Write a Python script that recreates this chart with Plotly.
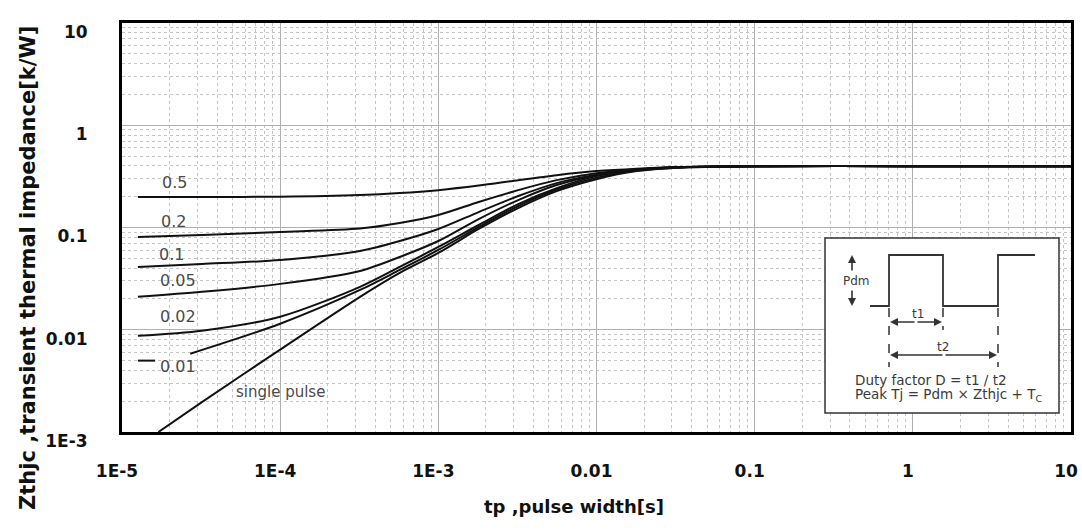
import plotly.graph_objects as go

# ---------------- data ----------------
tp = [1.26e-5, 3.2e-5, 1e-4, 3.2e-4, 5.7e-4, 1e-3, 1.8e-3, 3.2e-3, 5.6e-3, 1e-2,
      1.8e-2, 3.2e-2, 1e-1, 1, 10]

z_05 = [0.199, 0.199, 0.200, 0.2075, 0.217, 0.232, 0.257, 0.2905, 0.325, 0.356,
        0.3763, 0.389, 0.398, 0.398, 0.398]
z_02 = [0.0808, 0.0845, 0.0904, 0.0977, 0.1106, 0.1324, 0.1774, 0.232, 0.2905, 0.340,
        0.372, 0.389, 0.398, 0.398, 0.398]
z_01 = [0.0412, 0.044, 0.048, 0.059, 0.0738, 0.0967, 0.1416, 0.203, 0.2717, 0.329,
        0.368, 0.389, 0.398, 0.398, 0.398]
z_005 = [0.021, 0.0235, 0.0281, 0.0376, 0.0515, 0.0738, 0.121, 0.1854, 0.260, 0.325,
         0.368, 0.389, 0.398, 0.398, 0.398]
z_002 = [0.00873, 0.0098, 0.0134, 0.0263, 0.0412, 0.0645, 0.1058, 0.1696, 0.2428, 0.318,
         0.364, 0.389, 0.398, 0.398, 0.398]

tp_001 = [1.26e-5, 1.62e-5, None, 2.7e-5, 1e-4, 3.2e-4, 5.7e-4, 1e-3, 1.8e-3, 3.2e-3,
          5.6e-3, 1e-2, 1.8e-2, 3.2e-2, 1e-1, 1, 10]
z_001 = [0.00499, 0.00499, None, 0.00583, 0.01145, 0.0245, 0.0385, 0.0603, 0.101, 0.162,
         0.235, 0.3075, 0.360, 0.385, 0.398, 0.398, 0.398]

tp_sp = [1.7e-5, 3.2e-5, 1e-4, 3.2e-4, 5.7e-4, 1e-3, 1.8e-3, 3.2e-3, 5.6e-3, 1e-2,
         1.8e-2, 3.2e-2, 1e-1, 1, 10]
z_sp = [0.001, 0.00196, 0.0064, 0.021, 0.036, 0.0564, 0.0967, 0.155, 0.227, 0.297,
        0.356, 0.385, 0.398, 0.398, 0.398]

x_tickvals = [1e-5, 1e-4, 1e-3, 1e-2, 1e-1, 1, 10]
x_ticktext = ["1E-5", "1E-4", "1E-3", "0.01", "0.1", "1", "10"]
y_tickvals = [1e-3, 1e-2, 1e-1, 1, 10]
y_ticktext = ["1E-3", "0.01", "0.1", "1", "10"]

curve_labels = ["0.5", "0.2", "0.1", "0.05", "0.02", "0.01", "single pulse"]
# label anchor positions in data space (log10 t, log10 Z)
label_lx = [-4.665, -4.677, -4.684, -4.646, -4.646, -4.646, -4.0]
label_ly = [-0.556, -0.937, -1.268, -1.522, -1.873, -2.361, -2.605]

# ---------------- figure ----------------
W, H = 1082, 530
L, R, T, B = 122, 11, 23, 98
PW, PH = W - L - R, H - T - B


def P(px, py):
    return (px - L) / PW, (H - B - py) / PH


fig = go.Figure()
line = dict(color="#111111", width=2, shape="spline", smoothing=0.8)
for xs, ys in [(tp, z_05), (tp, z_02), (tp, z_01), (tp, z_005), (tp, z_002),
               (tp_001, z_001), (tp_sp, z_sp)]:
    fig.add_trace(go.Scatter(x=xs, y=ys, mode="lines", line=line,
                             connectgaps=False, showlegend=False, hoverinfo="skip"))

annotations = []
for txt, lx, ly in zip(curve_labels, label_lx, label_ly):
    annotations.append(dict(x=lx, y=ly, xref="x", yref="y", text=txt, showarrow=False,
                            font=dict(family="DejaVu Sans", size=16 if txt != "single pulse" else 15,
                                      color="#4a4a4a", weight="normal")))

# axis titles
ax, ay = P(574, 506)
annotations.append(dict(x=ax, y=ay, xref="paper", yref="paper", text="tp ,pulse width[s]",
                        showarrow=False,
                        font=dict(family="DejaVu Sans", size=18, color="#111", weight="bold"),
                        xanchor="center", yanchor="middle"))
ax, ay = P(28, 268)
annotations.append(dict(x=ax, y=ay, xref="paper", yref="paper",
                        text="Zthjc ,transient thermal impedance[k/W]", textangle=-90,
                        showarrow=False,
                        font=dict(family="DejaVu Sans", size=21, color="#111", weight="bold"),
                        xanchor="center", yanchor="middle"))

# ---------------- inset diagram ----------------
shapes = []
x0, y0 = P(825, 413)
x1, y1 = P(1059, 238)
shapes.append(dict(type="rect", xref="paper", yref="paper", x0=x0, y0=y0, x1=x1, y1=y1,
                   fillcolor="white", line=dict(color="#333", width=1.5), layer="above"))

wave = [(870, 306), (889, 306), (889, 255), (943, 255), (943, 306), (998, 306), (998, 255), (1035, 255)]
path = ""
for i, (px, py) in enumerate(wave):
    a, b = P(px, py)
    path += ("M" if i == 0 else "L") + f"{a:.5f},{b:.5f} "
shapes.append(dict(type="path", xref="paper", yref="paper", path=path,
                   line=dict(color="#333", width=1.8), layer="above"))

for px, ya, yb in [(889, 308, 367), (943, 308, 330), (998, 308, 367)]:
    a0, b0 = P(px, ya)
    a1, b1 = P(px, yb)
    shapes.append(dict(type="line", xref="paper", yref="paper", x0=a0, y0=b0, x1=a1, y1=b1,
                       line=dict(color="#333", width=1.5, dash="dash"), layer="above"))

# arrows: (head px, head py, tail dx, tail dy)
arrows = [(852, 255, 0, 17), (852, 306, 0, -17),
          (890, 322, 26, 0), (942, 322, -26, 0),
          (890, 355, 54, 0), (997, 355, -53, 0)]
for hx, hy, dx, dy in arrows:
    a, b = P(hx, hy)
    annotations.append(dict(x=a, y=b, xref="paper", yref="paper", text="", showarrow=True,
                            ax=dx, ay=dy, arrowhead=2, arrowsize=1, arrowwidth=1.6,
                            arrowcolor="#333", standoff=0, startstandoff=0))

inset_texts = [("Pdm", 856, 281, "center", 12), ("t1", 918, 314, "center", 12),
               ("t2", 943, 347, "center", 12)]
for txt, px, py, anc, sz in inset_texts:
    a, b = P(px, py)
    annotations.append(dict(x=a, y=b, xref="paper", yref="paper", text=txt, showarrow=False,
                            xanchor=anc, yanchor="middle", bgcolor="white" if txt == "Pdm" else None,
                            font=dict(family="DejaVu Sans", size=sz, color="#3a3a3a",
                                      weight="normal")))
for txt, py in [("Duty factor D = t1 / t2", 380),
                ("Peak Tj = Pdm × Zthjc + T<sub>C</sub>", 395)]:
    a, b = P(853, py)
    annotations.append(dict(x=a, y=b, xref="paper", yref="paper", text=txt, showarrow=False,
                            xanchor="left", yanchor="middle",
                            font=dict(family="DejaVu Sans", size=13.5, color="#3a3a3a",
                                      weight="normal")))

tickfont = dict(family="DejaVu Sans", size=17, color="#111", weight="bold")
minor = dict(showgrid=True, gridcolor="#c4c4c4", griddash="dot", gridwidth=1, dtick="D1", ticks="")

fig.update_layout(
    width=W, height=H,
    margin=dict(l=L, r=R, t=T, b=B, pad=0),
    paper_bgcolor="white", plot_bgcolor="white",
    font=dict(family="DejaVu Sans"),
    xaxis=dict(type="log", range=[-5, 1], tickmode="array", tickvals=x_tickvals,
               ticktext=x_ticktext, showgrid=True, gridcolor="#b0b0b0", gridwidth=1.3,
               minor=minor, showline=True, mirror=True, linecolor="black", linewidth=3,
               zeroline=False, ticks="", ticklabelstandoff=22, ticklabelshift=-5,
               ticklabeloverflow="allow", tickfont=tickfont, automargin=False),
    yaxis=dict(type="log", range=[-3, 1], tickmode="array", tickvals=y_tickvals,
               ticktext=y_ticktext, showgrid=True, gridcolor="#b0b0b0", gridwidth=1.3,
               minor=minor, showline=True, mirror=True, linecolor="black", linewidth=3,
               zeroline=False, ticks="", ticklabelstandoff=28, ticklabelshift=9,
               ticklabeloverflow="allow", tickfont=tickfont, automargin=False),
    annotations=annotations,
    shapes=shapes,
)

fig.write_html("out.html")
